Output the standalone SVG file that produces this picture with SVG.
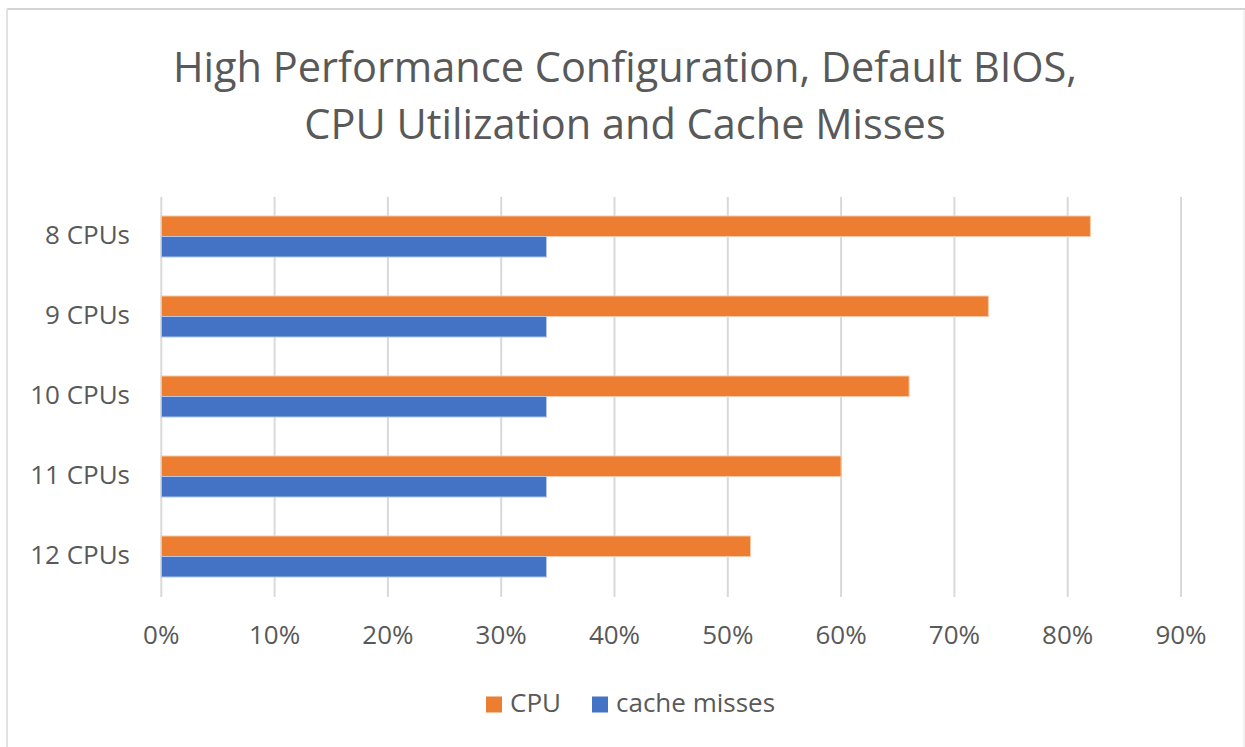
<svg xmlns="http://www.w3.org/2000/svg" width="1245" height="747" viewBox="0 0 1245 747">
<style>
.t{font-family:"Open Sans","Liberation Sans",sans-serif;fill:#595959}
.title{font-size:41.5px}
.lbl{font-size:26px}
.grid{stroke:#D9D9D9;stroke-width:2}
.cpu{fill:#ED7D31;stroke:#F7C9A8;stroke-width:1}
.cm{fill:#4472C4;stroke:#B4C7E7;stroke-width:1}
</style>
<rect x="0" y="0" width="1245" height="747" fill="#ffffff"/>
<g id="frame">
<line x1="7" y1="9" x2="1245" y2="9" stroke="#D4D4D4" stroke-width="2"/>
<line x1="7" y1="9" x2="7" y2="747" stroke="#E2E2E2" stroke-width="2"/>
<line x1="1244" y1="10" x2="1244" y2="747" stroke="#EEEEEE" stroke-width="1.5"/>
</g>
<g id="title" class="t title" text-anchor="middle">
<text x="625" y="82">High Performance Configuration, Default BIOS,</text>
<text x="625" y="139">CPU Utilization and Cache Misses</text>
</g>
<g id="gridlines">
<line class="grid" x1="161.3" y1="197" x2="161.3" y2="597"/>
<line class="grid" x1="274.6" y1="197" x2="274.6" y2="597"/>
<line class="grid" x1="387.9" y1="197" x2="387.9" y2="597"/>
<line class="grid" x1="501.2" y1="197" x2="501.2" y2="597"/>
<line class="grid" x1="614.5" y1="197" x2="614.5" y2="597"/>
<line class="grid" x1="727.8" y1="197" x2="727.8" y2="597"/>
<line class="grid" x1="841.1" y1="197" x2="841.1" y2="597"/>
<line class="grid" x1="954.4" y1="197" x2="954.4" y2="597"/>
<line class="grid" x1="1067.7" y1="197" x2="1067.7" y2="597"/>
<line class="grid" x1="1181" y1="197" x2="1181" y2="597"/>
</g>
<g id="x-axis-labels" class="t lbl" text-anchor="middle">
<text x="161.3" y="644">0%</text>
<text x="274.6" y="644">10%</text>
<text x="387.9" y="644">20%</text>
<text x="501.2" y="644">30%</text>
<text x="614.5" y="644">40%</text>
<text x="727.8" y="644">50%</text>
<text x="841.1" y="644">60%</text>
<text x="954.4" y="644">70%</text>
<text x="1067.7" y="644">80%</text>
<text x="1181" y="644">90%</text>
</g>
<g id="y-axis-labels" class="t lbl" text-anchor="end">
<text x="130" y="244">8 CPUs</text>
<text x="130" y="324">9 CPUs</text>
<text x="130" y="404">10 CPUs</text>
<text x="130" y="484">11 CPUs</text>
<text x="130" y="564">12 CPUs</text>
</g>
<g id="series-cpu">
<rect class="cpu" x="161.3" y="216" width="929.1" height="20.5"/>
<rect class="cpu" x="161.3" y="296" width="827.1" height="20.5"/>
<rect class="cpu" x="161.3" y="376" width="747.8" height="20.5"/>
<rect class="cpu" x="161.3" y="456" width="679.8" height="20.5"/>
<rect class="cpu" x="161.3" y="536" width="589.2" height="20.5"/>
</g>
<g id="series-cache-misses">
<rect class="cm" x="161.3" y="236.5" width="385.2" height="20.5"/>
<rect class="cm" x="161.3" y="316.5" width="385.2" height="20.5"/>
<rect class="cm" x="161.3" y="396.5" width="385.2" height="20.5"/>
<rect class="cm" x="161.3" y="476.5" width="385.2" height="20.5"/>
<rect class="cm" x="161.3" y="556.5" width="385.2" height="20.5"/>
</g>
<g id="legend">
<rect x="486" y="696.5" width="16" height="16" fill="#ED7D31"/>
<text class="t lbl" x="510" y="712">CPU</text>
<rect x="592" y="696.5" width="16" height="16" fill="#4472C4"/>
<text class="t lbl" x="616" y="712">cache misses</text>
</g>
</svg>
